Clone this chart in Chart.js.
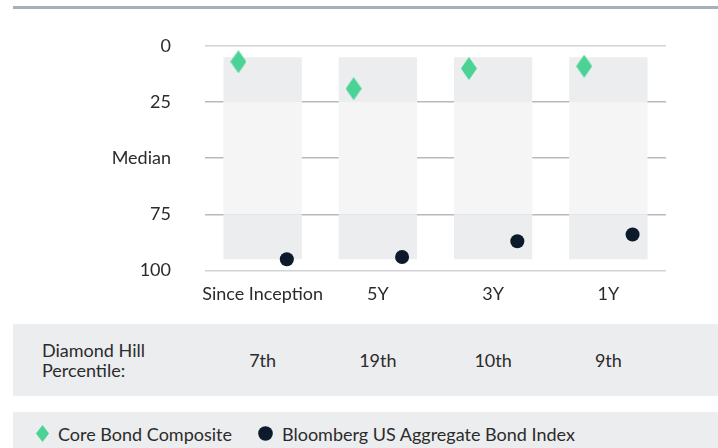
<!DOCTYPE html>
<html>
<head>
<meta charset="utf-8">
<script src="https://cdn.jsdelivr.net/npm/chart.js@4/dist/chart.umd.min.js"></script>
<style>
  body { margin: 0; width: 718px; height: 448px; overflow: hidden; background: #fff;
         font-family: Lato, "Open Sans", sans-serif; color: #2b2b2b; position: relative; }
  .rule { position: absolute; left: 13px; right: 0; top: 6px; height: 3px; background: #a9afb8; }
  .chart-wrap { position: absolute; left: 0; top: 0; width: 718px; height: 324px; }
  .table { position: absolute; left: 13px; right: 0; top: 324px; height: 72px; background: #ecedef; font-size: 18px; }
  .table .label { position: absolute; left: 29px; top: 50%; transform: translateY(-50%); line-height: 20px; }
  .table .val { position: absolute; top: 50%; transform: translate(-50%, -50%); white-space: nowrap; }
  .legend { position: absolute; left: 13px; right: 0; top: 412px; height: 43px; background: #ecedef;
            display: flex; align-items: center; font-size: 18px; padding-left: 23px; }
  .legend .item { display: flex; align-items: center; margin-right: 26px; }
  .legend .item svg { margin-right: 9px; }
</style>
</head>
<body>
<div class="rule"></div>
<div class="chart-wrap"><canvas id="rankChart"></canvas></div>
<div class="table" id="rankTable"><div class="label">Diamond Hill<br>Percentile:</div></div>
<div class="legend" id="legend"></div>

<script>
const categories = ['Since Inception', '5Y', '3Y', '1Y'];
const compositeRank = [7, 19, 10, 9];
const indexRank = [95, 94, 87, 84];
const percentileLabels = ['7th', '19th', '10th', '9th'];
const universeTop = [5, 5, 5, 5];
const universeBottom = [95, 95, 95, 95];
const quartileBreaks = [25, 75];
const yTickLabels = ['0', '25', 'Median', '75', '100'];
const seriesNames = ['Core Bond Composite', 'Bloomberg US Aggregate Bond Index'];

const GREEN = '#4bd396';
const NAVY = '#0c1a2b';
const BAND_DARK = '#ecedef';
const BAND_LIGHT = '#f5f5f6';
const MARK_SHIFT = 0.21;

// tall diamond marker
function makeDiamond(w, h, color) {
    const c = document.createElement('canvas');
    c.width = w; c.height = h;
    const g = c.getContext('2d');
    g.fillStyle = color;
    g.beginPath();
    g.moveTo(w / 2, 0);
    g.lineTo(w, h / 2);
    g.lineTo(w / 2, h);
    g.lineTo(0, h / 2);
    g.closePath();
    g.fill();
    return c;
}
const diamond = makeDiamond(16, 23, GREEN);

function band(lo, hi, color) {
    return {
        type: 'bar',
        data: categories.map((c, i) => [lo[i], hi[i]]),
        backgroundColor: color,
        grouped: false,
        categoryPercentage: 1,
        barPercentage: 0.68,
        order: 5
    };
}
const q1 = categories.map(() => quartileBreaks[0]);
const q3 = categories.map(() => quartileBreaks[1]);

const rankChart = new Chart(document.getElementById('rankChart'), {
    type: 'bar',
    data: {
        labels: categories,
        datasets: [
            band(universeTop, q1, BAND_DARK),
            band(q1, q3, BAND_LIGHT),
            band(q3, universeBottom, BAND_DARK),
            {
                type: 'scatter',
                label: seriesNames[0],
                xAxisID: 'xm',
                data: compositeRank.map((v, i) => ({ x: i - MARK_SHIFT, y: v })),
                pointStyle: diamond,
                pointRadius: 10,
                order: 1
            },
            {
                type: 'scatter',
                label: seriesNames[1],
                xAxisID: 'xm',
                data: indexRank.map((v, i) => ({ x: i + MARK_SHIFT, y: v })),
                pointStyle: 'circle',
                pointRadius: 7,
                backgroundColor: NAVY,
                borderWidth: 0,
                order: 1
            }
        ]
    },
    options: {
        responsive: true,
        maintainAspectRatio: false,
        animation: false,
        layout: { autoPadding: false, padding: { top: 46, right: 52, bottom: 6, left: 0 } },
        plugins: { legend: { display: false }, tooltip: { enabled: false } },
        scales: {
            x: {
                type: 'category',
                grid: { display: false, drawTicks: false },
                border: { display: false },
                ticks: {
                    color: '#2b2b2b', padding: 13, maxRotation: 0, minRotation: 0, autoSkip: false,
                    font: { family: 'Lato', size: 18 }
                }
            },
            xm: {
                type: 'linear',
                display: false,
                offset: false,
                min: -0.5,
                max: categories.length - 0.5
            },
            y: {
                reverse: true,
                min: 0,
                max: 100,
                z: 1,
                afterFit: (scale) => { scale.width = 205; },
                border: { display: false },
                grid: {
                    drawTicks: false,
                    color: (ctx) => (ctx.tick && (ctx.tick.value === 0 || ctx.tick.value === 100)) ? '#d0d3d8' : '#b5b9c0',
                    lineWidth: 1.5
                },
                ticks: {
                    stepSize: 25,
                    padding: 34,
                    color: '#2b2b2b',
                    font: { family: 'Lato', size: 18 },
                    callback: (v) => yTickLabels[v / 25]
                }
            }
        }
    }
});

// percentile row aligned under categories
const table = document.getElementById('rankTable');
const xs = rankChart.scales.x;
percentileLabels.forEach((txt, i) => {
    const d = document.createElement('div');
    d.className = 'val';
    d.textContent = txt;
    d.style.left = (xs.getPixelForValue(i) - 13) + 'px';
    table.appendChild(d);
});

// legend
const legend = document.getElementById('legend');
legend.innerHTML =
    '<div class="item"><svg width="13" height="17"><polygon points="6.5,0 13,8.5 6.5,17 0,8.5" fill="' + GREEN + '"/></svg>' + seriesNames[0] + '</div>' +
    '<div class="item"><svg width="15" height="15"><circle cx="7.5" cy="7.5" r="7.3" fill="' + NAVY + '"/></svg>' + seriesNames[1] + '</div>';
</script>
</body>
</html>
